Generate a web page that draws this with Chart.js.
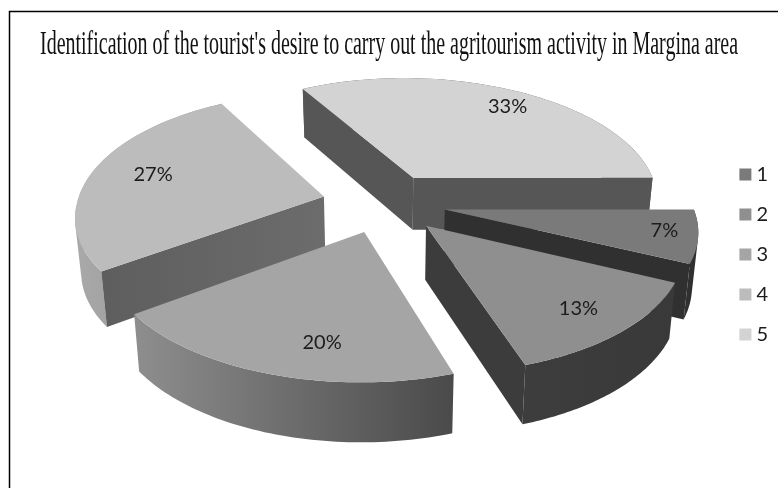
<!DOCTYPE html>
<html>
<head>
<meta charset="utf-8">
<script src="https://cdn.jsdelivr.net/npm/chart.js@4"></script>
<style>
  html, body { margin: 0; padding: 0; background: #fff; }
  #wrap { position: absolute; left: 0; top: 0; width: 778px; height: 488px; }
</style>
</head>
<body>
<div id="wrap"><canvas id="grafico"></canvas></div>
<script>
const titulo = "Identification of the tourist's desire to carry out the agritourism activity in Margina area";
const categorias = ["1", "2", "3", "4", "5"];
const valores = [7, 13, 20, 27, 33];
const coresTopo = ["#7a7a7a", "#8f8f8f", "#a5a5a5", "#bcbcbc", "#d3d3d3"];

// shading of the extruded sides, per slice: [outer wall left, outer wall right, cut wall near, cut wall far]
const coresLado = [
  ["#303030", "#303030", "#303030", "#303030"],
  ["#3d3d3d", "#393939", "#3c3c3c", "#3c3c3c"],
  ["#8e8e8e", "#4a4a4a", "#777777", "#777777"],
  ["#a9a9a9", "#8e8e8e", "#5e5e5e", "#6c6c6c"],
  ["#565656", "#565656", "#565656", "#565656"]
];
// where each % label sits in its slice: radius fraction, fraction along the arc
const posRotulo = [[0.87, 0.46], [0.8, 0.5], [0.776, 0.39], [0.743, 0.52], [0.825, 0.53]];
const ordemDesenho = [4, 3, 0, 2, 1];

// 3d view of the pie plane
const vista = { cx: 384, cy: 203, rx: 247, ry: 118, persp: 0.15, explode: 0.25, altura: 52 };

function projeta(ang, r, meio) {
  const u = Math.cos(ang) * r + vista.explode * Math.cos(meio);
  const v = Math.sin(ang) * r + vista.explode * Math.sin(meio);
  const s = 1 / (1 - vista.persp * v);
  const longe = Math.min(v, 0); // the far half leans a little to the left and up
  return [vista.cx + vista.rx * u * s + 5.5 * longe, vista.cy + vista.ry * v * s + 3 * longe];
}

function embaixo(p) {
  return [vista.cx + (p[0] - vista.cx) * 0.98, p[1] + vista.altura + (p[1] - 178) * 0.039];
}

function caminho(ctx, pts) {
  ctx.beginPath();
  pts.forEach((p, i) => i ? ctx.lineTo(p[0], p[1]) : ctx.moveTo(p[0], p[1]));
  ctx.closePath();
}

function gradiente(ctx, x0, x1, c0, c1) {
  const g = ctx.createLinearGradient(x0, 0, x1, 0);
  g.addColorStop(0, c0);
  g.addColorStop(1, c1);
  return g;
}

function area(pts) {
  let a = 0;
  pts.forEach((p, i) => {
    const q = pts[(i + 1) % pts.length];
    a += p[0] * q[1] - q[0] * p[1];
  });
  return a;
}

function desenhaFatia(ctx, arco, i) {
  const ini = arco.startAngle, fim = arco.endAngle, meio = (ini + fim) / 2;
  const apice = projeta(0, 0, meio);
  const borda = [];
  for (let k = 0; k <= 60; k++) {
    borda.push(projeta(ini + (fim - ini) * k / 60, 1, meio));
  }
  const lados = coresLado[i];

  // outer wall, one path of strips so the sides stay tangent to the rim
  const xs = borda.map(p => p[0]);
  ctx.fillStyle = gradiente(ctx, Math.min(...xs), Math.max(...xs), lados[0], lados[1]);
  ctx.beginPath();
  for (let k = 0; k < 60; k++) {
    const tira = [borda[k], borda[k + 1], embaixo(borda[k + 1]), embaixo(borda[k])];
    if (area(tira) < 0) tira.reverse();
    tira.forEach((p, j) => j ? ctx.lineTo(p[0], p[1]) : ctx.moveTo(p[0], p[1]));
    ctx.closePath();
  }
  ctx.fill();

  // cut walls, only the ones that face the viewer
  [[borda[0], borda[60]], [borda[60], borda[0]]].forEach(par => {
    const p = par[0], outro = par[1];
    const dx = p[0] - apice[0], dy = p[1] - apice[1];
    const lado = dx * (outro[1] - apice[1]) - dy * (outro[0] - apice[0]);
    if (lado * dx > 0) return; // top face lies below this edge, so the wall is hidden
    caminho(ctx, [apice, p, embaixo(p), embaixo(apice)]);
    ctx.fillStyle = gradiente(ctx, Math.min(apice[0], p[0]), Math.max(apice[0], p[0]), lados[2], lados[3]);
    ctx.fill();
  });

  // top face
  caminho(ctx, [apice].concat(borda));
  ctx.fillStyle = arco.options.backgroundColor;
  ctx.fill();
}

const pizza3d = {
  id: "pizza3d",
  afterLayout(chart) {
    // title squeezed to the width it has in the picture
    chart.titleBlock.left = 40;
    chart.titleBlock.right = 738;
    chart.legend.top += 44;
    chart.legend.bottom += 44;
  },
  beforeDraw(chart) {
    const ctx = chart.ctx;
    ctx.save();
    ctx.strokeStyle = "#000";
    ctx.lineWidth = 1.5;
    ctx.beginPath();
    ctx.moveTo(9.5, 488);
    ctx.lineTo(9.5, 11.5);
    ctx.lineTo(778, 11.5);
    ctx.stroke();
    ctx.restore();
  },
  beforeDatasetsDraw(chart) {
    const ctx = chart.ctx;
    const arcos = chart.getDatasetMeta(0).data;
    ctx.save();
    ordemDesenho.forEach(i => desenhaFatia(ctx, arcos[i], i));
    ctx.font = "20px Lato";
    ctx.fillStyle = "#1c1c1c";
    ctx.textAlign = "center";
    ctx.textBaseline = "middle";
    arcos.forEach((arco, i) => {
      const meio = (arco.startAngle + arco.endAngle) / 2;
      const ang = arco.startAngle + (arco.endAngle - arco.startAngle) * posRotulo[i][1];
      const p = projeta(ang, posRotulo[i][0], meio);
      ctx.fillText(valores[i] + "%", p[0], p[1]);
    });
    ctx.restore();
    return false;
  }
};

new Chart(document.getElementById("grafico"), {
  type: "pie",
  data: {
    labels: categorias,
    datasets: [{ data: valores, backgroundColor: coresTopo, borderWidth: 0 }]
  },
  options: {
    responsive: true,
    maintainAspectRatio: false,
    animation: false,
    rotation: 90,
    layout: { padding: { bottom: 67, right: 0 } },
    plugins: {
      tooltip: { enabled: false },
      title: {
        display: true,
        text: titulo,
        color: "#111",
        font: { family: "Liberation Serif", size: 33, weight: "normal" },
        padding: { top: 26, bottom: 0 }
      },
      legend: {
        position: "right",
        labels: {
          usePointStyle: true,
          pointStyle: "rect",
          boxWidth: 2,
          boxHeight: 12,
          padding: 20,
          color: "#1c1c1c",
          font: { family: "Lato", size: 20 }
        }
      }
    }
  },
  plugins: [pizza3d]
});
</script>
</body>
</html>
